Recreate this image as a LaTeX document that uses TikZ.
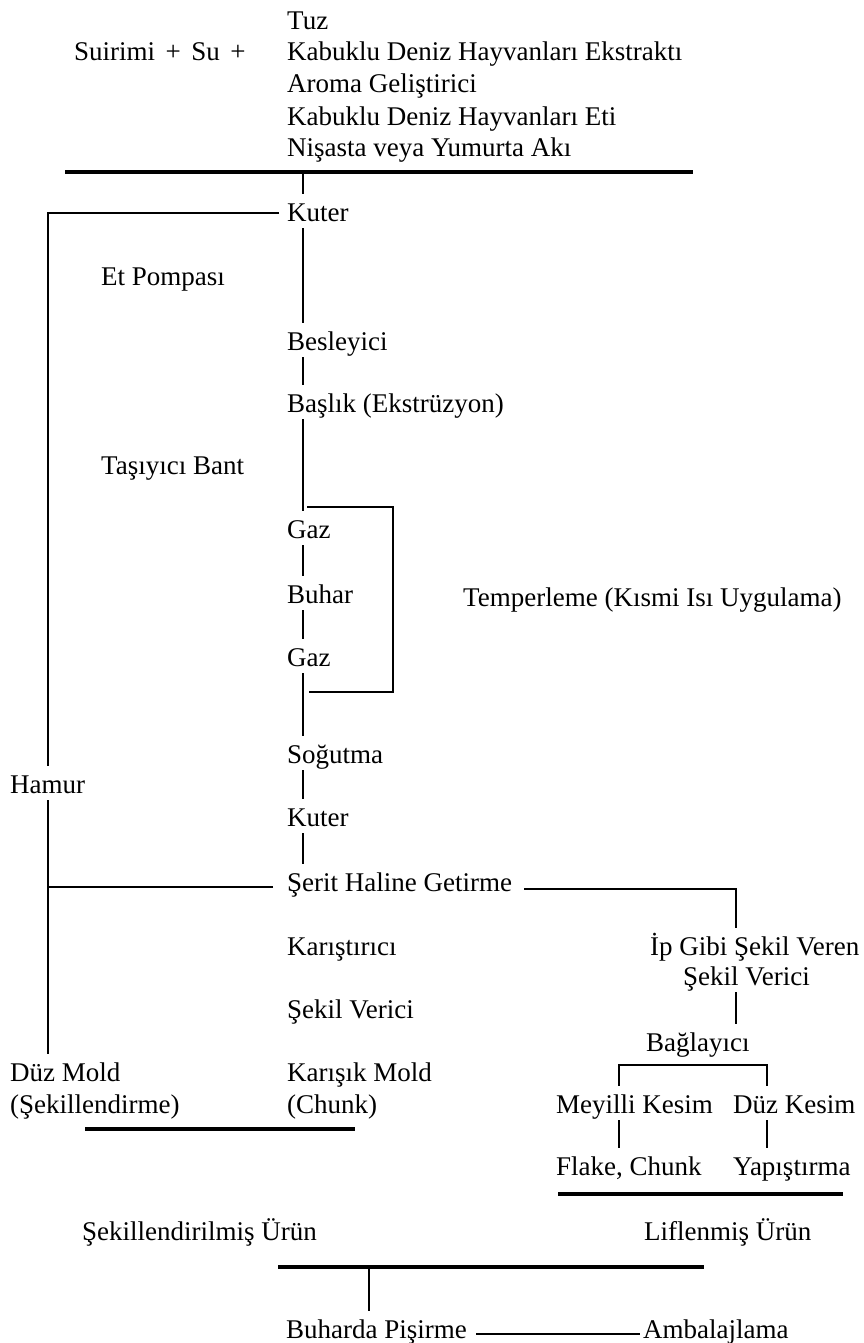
\documentclass[tikz,border=0pt]{standalone}
\usepackage{fontspec}
\setmainfont{Liberation Serif}
\begin{document}
\begin{tikzpicture}[x=1pt,y=-1pt,
  lbl/.style={anchor=base west, inner xsep=0pt, inner ysep=1pt, text height=26pt, text depth=6pt, font=\fontsize{27}{32}\selectfont},
  ln/.style={line width=2pt},
  rulel/.style={line width=3.2pt}]
\useasboundingbox (0,0) rectangle (863,1343);
\fill[white] (0,0) rectangle (863,1343);
% top ingredients
\node[lbl] (tuz) at (287,30) {Tuz};
\node[lbl] (suirimi) at (74,61) {Suirimi\hspace{10.5pt}+\hspace{10.5pt}Su\hspace{10.5pt}+};
\node[lbl] (k1) at (287,61) {Kabuklu Deniz Hayvanları Ekstraktı};
\node[lbl] (aroma) at (287,93) {Aroma Geliştirici};
\node[lbl] (k2) at (287,126) {Kabuklu Deniz Hayvanları Eti};
\node[lbl] (nis) at (287,157) {Nişasta veya Yumurta Akı};
% main column
\node[lbl] (kuterA) at (287,221) {Kuter};
\node[lbl] (etp) at (101,285) {Et Pompası};
\node[lbl] (besl) at (287,350) {Besleyici};
\node[lbl] (baslik) at (287,412) {Başlık (Ekstrüzyon)};
\node[lbl] (tasiyici) at (101,474) {Taşıyıcı Bant};
\node[lbl] (gaz1) at (287,538) {Gaz};
\node[lbl] (buhar) at (287,603) {Buhar};
\node[lbl] (gaz2) at (287,666) {Gaz};
\node[lbl] (temp) at (463,606) {Temperleme (Kısmi Isı Uygulama)};
\node[lbl] (sogutma) at (287,763) {Soğutma};
\node[lbl] (hamur) at (10,793) {Hamur};
\node[lbl] (kuterB) at (287,826) {Kuter};
\node[lbl] (serit) at (287,891) {Şerit Haline Getirme};
\node[lbl] (karis) at (287,955) {Karıştırıcı};
\node[lbl] (ip) at (650,955) {İp Gibi Şekil Veren};
\node[lbl] (sekR) at (683,985) {Şekil Verici};
\node[lbl] (sekL) at (287,1018) {Şekil Verici};
\node[lbl] (bag) at (646,1051) {Bağlayıcı};
\node[lbl] (duzm) at (10,1081) {Düz Mold};
\node[lbl] (karm) at (287,1081) {Karışık Mold};
\node[lbl] (sekl) at (10,1113) {(Şekillendirme)};
\node[lbl] (chunk) at (287,1113) {(Chunk)};
\node[lbl] (meyil) at (556,1113) {Meyilli Kesim};
\node[lbl] (duzk) at (733,1113) {Düz Kesim};
\node[lbl] (flake) at (556,1175) {Flake, Chunk};
\node[lbl] (yap) at (733,1175) {Yapıştırma};
\node[lbl] (sekur) at (82,1240) {Şekillendirilmiş Ürün};
\node[lbl] (lif) at (644,1240) {Liflenmiş Ürün};
\node[lbl] (bp) at (286,1338) {Buharda Pişirme};
\node[lbl] (amb) at (643,1338) {Ambalajlama};
% coordinates
\coordinate (cx) at (303,0);
\coordinate (topL) at (65,172);
\coordinate (topR) at (693,172);
\coordinate (t1) at (307,507);
\coordinate (t2) at (393,507);
\coordinate (t3) at (393,692);
\coordinate (t4) at (309,692);
\coordinate (rc) at (736,889);
\coordinate (bl) at (619,1065);
\coordinate (br) at (767,1065);
\coordinate (uL1) at (85,1129);
\coordinate (uL2) at (355,1129);
\coordinate (uR1) at (558,1194);
\coordinate (uR2) at (843,1194);
\coordinate (bt1) at (278,1267);
\coordinate (bt2) at (704,1267);
\coordinate (bx) at (369,1267);
% rules
\draw[rulel] (topL) -- (topR);
\draw[rulel] (uL1) -- (uL2);
\draw[rulel] (uR1) -- (uR2);
\draw[rulel] (bt1) -- (bt2);
% main column connectors
\draw[ln] (cx |- topL) -- (cx |- kuterA.north);
\draw[ln] (cx |- kuterA.south) -- (cx |- besl.north);
\draw[ln] (cx |- besl.south) -- (cx |- baslik.north);
\draw[ln] (cx |- baslik.south) -- (cx |- gaz1.north);
\draw[ln] (cx |- gaz1.south) -- (cx |- buhar.north);
\draw[ln] (cx |- buhar.south) -- (cx |- gaz2.north);
\draw[ln] (cx |- gaz2.south) -- (cx |- sogutma.north);
\draw[ln] (cx |- sogutma.south) -- (cx |- kuterB.north);
\draw[ln] (cx |- kuterB.south) -- (cx |- serit.north);
% tempering bracket
\draw[ln] (t1) -- (t2) -- (t3) -- (t4);
% left branch
\draw[ln] ([xshift=-8pt,yshift=8pt]kuterA.base west) -| (hamur.north);
\draw[ln] (hamur.south) -- (hamur.south |- duzm.north);
\path ([xshift=-14pt,yshift=4pt]serit.base west) coordinate (sl);
\draw[ln] (sl) -- (hamur.south |- sl);
% right branch
\path ([xshift=12pt,yshift=2pt]serit.base east) coordinate (sr);
\draw[ln] (sr) -- (rc |- sr) -- (rc |- ip.north);
\draw[ln] (rc |- sekR.south) -- (rc |- bag.north);
\draw[ln] (bl |- meyil.north) -- (bl) -- (br) -- (br |- duzk.north);
\draw[ln] (bl |- meyil.south) -- (bl |- flake.north);
\draw[ln] (br |- duzk.south) -- (br |- yap.north);
% bottom
\draw[ln] (bx) -- (bx |- bp.north);
\draw[ln] ([xshift=9pt,yshift=4pt]bp.base east) -- ([xshift=-3pt,yshift=4pt]amb.base west);
\end{tikzpicture}
\end{document}
